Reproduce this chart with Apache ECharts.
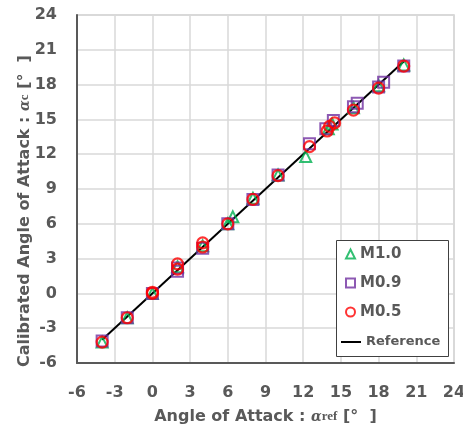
<!DOCTYPE html>
<html>
<head>
<meta charset="utf-8">
<script src="https://cdn.jsdelivr.net/npm/echarts@6/dist/echarts.min.js"></script>
<style>
  html, body { margin: 0; padding: 0; background: #fff; }
  #chart { width: 463px; height: 432px; }
</style>
</head>
<body>
<div id="chart"></div>
<script>
// data (x = reference angle, y = calibrated angle)
const m10X = [-4, -2, 0, 2, 4, 6, 6.4, 8, 10, 12.2, 14.0, 14.3, 16, 18, 20];
const m10Y = [-4.2, -2.1, 0, 2.3, 4.1, 6.0, 6.6, 8.2, 10.2, 11.8, 14.2, 14.6, 16.0, 17.9, 19.7];

const m09X = [-4, -2, 0, 2, 2, 4, 6, 8, 10, 12.5, 13.8, 14.4, 16.0, 16.3, 18.0, 18.4, 20];
const m09Y = [-4.1, -2.1, 0, 1.9, 2.2, 3.9, 6.0, 8.1, 10.2, 12.9, 14.2, 14.9, 16.1, 16.4, 17.8, 18.2, 19.6];

const m05X = [-4, -2, 0, 0, 2, 2, 4, 4, 6, 8, 10, 12.5, 13.9, 14.1, 14.5, 16, 18, 20];
const m05Y = [-4.2, -2.1, 0.1, 0, 2.55, 2.1, 4.35, 4.0, 6.0, 8.1, 10.15, 12.65, 14.0, 14.4, 14.7, 15.8, 17.7, 19.6];

const refX = [-4, 20];
const refY = [-4, 20];

const axisTicks = [-6, -3, 0, 3, 6, 9, 12, 15, 18, 21, 24];

const pairs = (xs, ys) => xs.map((x, i) => [x, ys[i]]);

const grey = "#595959";
const font = "'DejaVu Sans', 'Noto Sans', sans-serif";

const chart = echarts.init(document.getElementById("chart"));

const axisCommon = {
  type: "value",
  min: axisTicks[0],
  max: axisTicks[axisTicks.length - 1],
  interval: 3,
  axisLine: { show: true, onZero: false, lineStyle: { color: grey, width: 2 } },
  axisTick: { show: false },
  splitLine: { show: true, lineStyle: { color: "#d9d9d9", width: 1.5 } },
  axisLabel: { color: grey, fontSize: 16, fontWeight: "bold", fontFamily: font },
  nameLocation: "middle",
  nameMoveOverlap: false,
};

const nameRich = {
  a: { fontFamily: "'DejaVu Serif', 'Liberation Serif', serif", fontStyle: "italic", fontSize: 14, color: grey },
  s: { fontFamily: "'Liberation Serif', 'DejaVu Serif', serif", fontSize: 13, color: grey },
};

const nameStyle = { color: grey, fontSize: 16, fontWeight: "bold", fontFamily: font, rich: nameRich };
const legendText = { color: grey, fontSize: 13, fontWeight: "bold", fontFamily: font, lineHeight: 18 };

const option = {
  animation: false,
  backgroundColor: "#fff",
  grid: {
    left: 77, top: 15, right: 9, bottom: 69,
    outerBoundsMode: "none",
    show: true, borderColor: "#d0d0d0", borderWidth: 1.5,
  },
  xAxis: Object.assign({}, axisCommon, {
    name: "Angle of Attack : {a|α}{s|ref} [°  ]",
    nameGap: 46,
    nameTextStyle: nameStyle,
    axisLabel: Object.assign({}, axisCommon.axisLabel, { margin: 22 }),
  }),
  yAxis: Object.assign({}, axisCommon, {
    name: "Calibrated Angle of Attack : {a|α}{s|c} [°  ]",
    nameGap: 44,
    nameTextStyle: Object.assign({}, nameStyle, { padding: [0, 44, 0, 0] }),
    axisLabel: Object.assign({}, axisCommon.axisLabel, { margin: 20 }),
  }),
  graphic: [
    {
      type: "rect",
      left: 336,
      top: 240,
      shape: { width: 112, height: 116 },
      style: { fill: "#fff", stroke: "#404040", lineWidth: 1 },
      z: 10,
    },
  ],
  legend: [
    {
      orient: "vertical",
      left: 345,
      top: 245,
      padding: 0,
      itemGap: 11,
      itemWidth: 9,
      itemHeight: 9,
      itemTextGap: 7,
      textStyle: Object.assign({}, legendText, { fontSize: 15 }),
      data: ["M1.0", "M0.9", "M0.5"],
      z: 20,
    },
    {
      orient: "vertical",
      left: 340,
      top: 333,
      padding: 0,
      itemWidth: 20,
      itemHeight: 10,
      itemTextGap: 2,
      textStyle: legendText,
      data: [{ name: "Reference", itemStyle: { color: "rgba(0,0,0,0)", borderColor: "rgba(0,0,0,0)", borderWidth: 0 } }],
      z: 20,
    },
  ],
  series: [
    {
      name: "Reference",
      type: "line",
      data: pairs(refX, refY),
      symbol: "none",
      lineStyle: { color: "#000", width: 2 },
      itemStyle: { color: "#000" },
      z: 1,
    },
    {
      name: "M1.0",
      type: "scatter",
      data: pairs(m10X, m10Y),
      symbol: "triangle",
      symbolSize: 11,
      itemStyle: { color: "rgba(255,255,255,0)", borderColor: "#00b050", borderWidth: 2 },
      z: 2,
    },
    {
      name: "M0.9",
      type: "scatter",
      data: pairs(m09X, m09Y),
      symbol: "rect",
      symbolSize: 11,
      itemStyle: { color: "rgba(255,255,255,0)", borderColor: "#7030a0", borderWidth: 2 },
      z: 3,
    },
    {
      name: "M0.5",
      type: "scatter",
      data: pairs(m05X, m05Y),
      symbol: "circle",
      symbolSize: 11,
      itemStyle: { color: "rgba(255,255,255,0)", borderColor: "#ff0000", borderWidth: 2.2 },
      z: 4,
    },
  ],
};

chart.setOption(option);
</script>
</body>
</html>
